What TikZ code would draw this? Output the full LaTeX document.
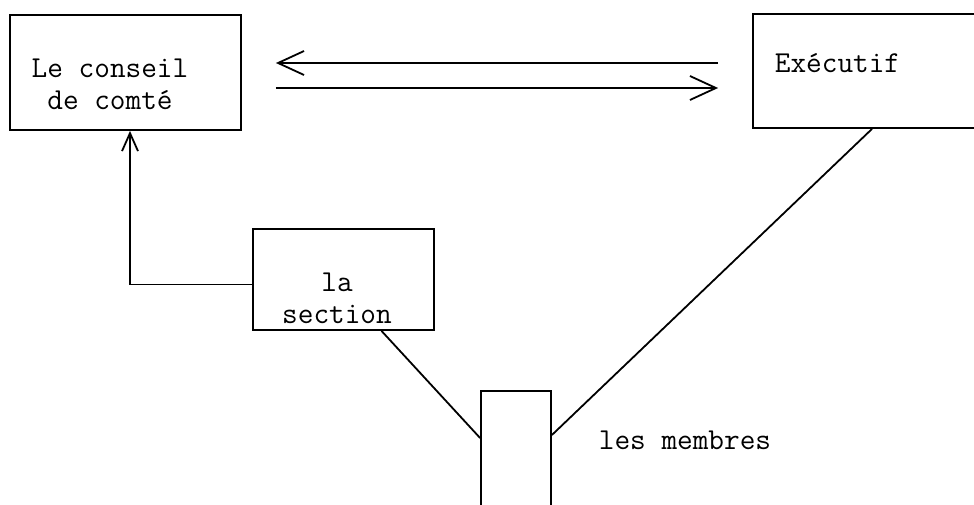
\documentclass[tikz,border=0pt]{standalone}
\usepackage{fontspec}
\usetikzlibrary{arrows.meta, positioning}

\begin{document}
\begin{tikzpicture}[>={Straight Barb[length=13pt, width=12pt]}, x=0.5pt, y=-0.5pt, line width=0.9pt]
    \tikzstyle{box}=[draw, inner sep=0pt]
    \tikzstyle{txt}=[font=\ttfamily\fontsize{15.2}{16}\selectfont, align=center, inner sep=0pt]

    \useasboundingbox (0,0) rectangle (974,504);

    \node[box, minimum width=115.5pt, minimum height=57.5pt] (conseil) at (125.5,72.5) {};
    \node[box, minimum width=123.5pt, minimum height=57pt] (exec) at (876.5,71) {};
    \node[box, minimum width=90.5pt, minimum height=50.5pt] (section) at (343.5,279.5) {};
    \node[box, minimum width=35pt, minimum height=74.5pt] (membres) at (516,465.5) {};

    \node[txt] (conseiltxt) at (110,84) {Le conseil\\de comté};
    \node[txt] (exectxt) at (837.5,63) {Exécutif};
    \node[txt] (sectiontxt) at (337,298) {la\\section};
    \node[txt] (membrestxt) at (685,440) {les membres};

    \draw[->, shorten >=17pt, shorten <=17pt] ([yshift=4pt]exec.west) -- ([yshift=4pt]exec.west -| conseil.east);
    \draw[->, shorten >=17pt, shorten <=17pt] ([yshift=-8.5pt]exec.west -| conseil.east) -- ([yshift=-8.5pt]exec.west);
    \draw[-{Straight Barb[length=9pt, width=8pt]}] ([yshift=-2.5pt]section.west) -| ([xshift=2.25pt]conseil.south);
    \draw ([xshift=19pt]section.south) -- ([yshift=13.75pt]membres.west);
    \draw ([xshift=-2.25pt]exec.south) -- ([yshift=15.25pt]membres.east);
\end{tikzpicture}
\end{document}
